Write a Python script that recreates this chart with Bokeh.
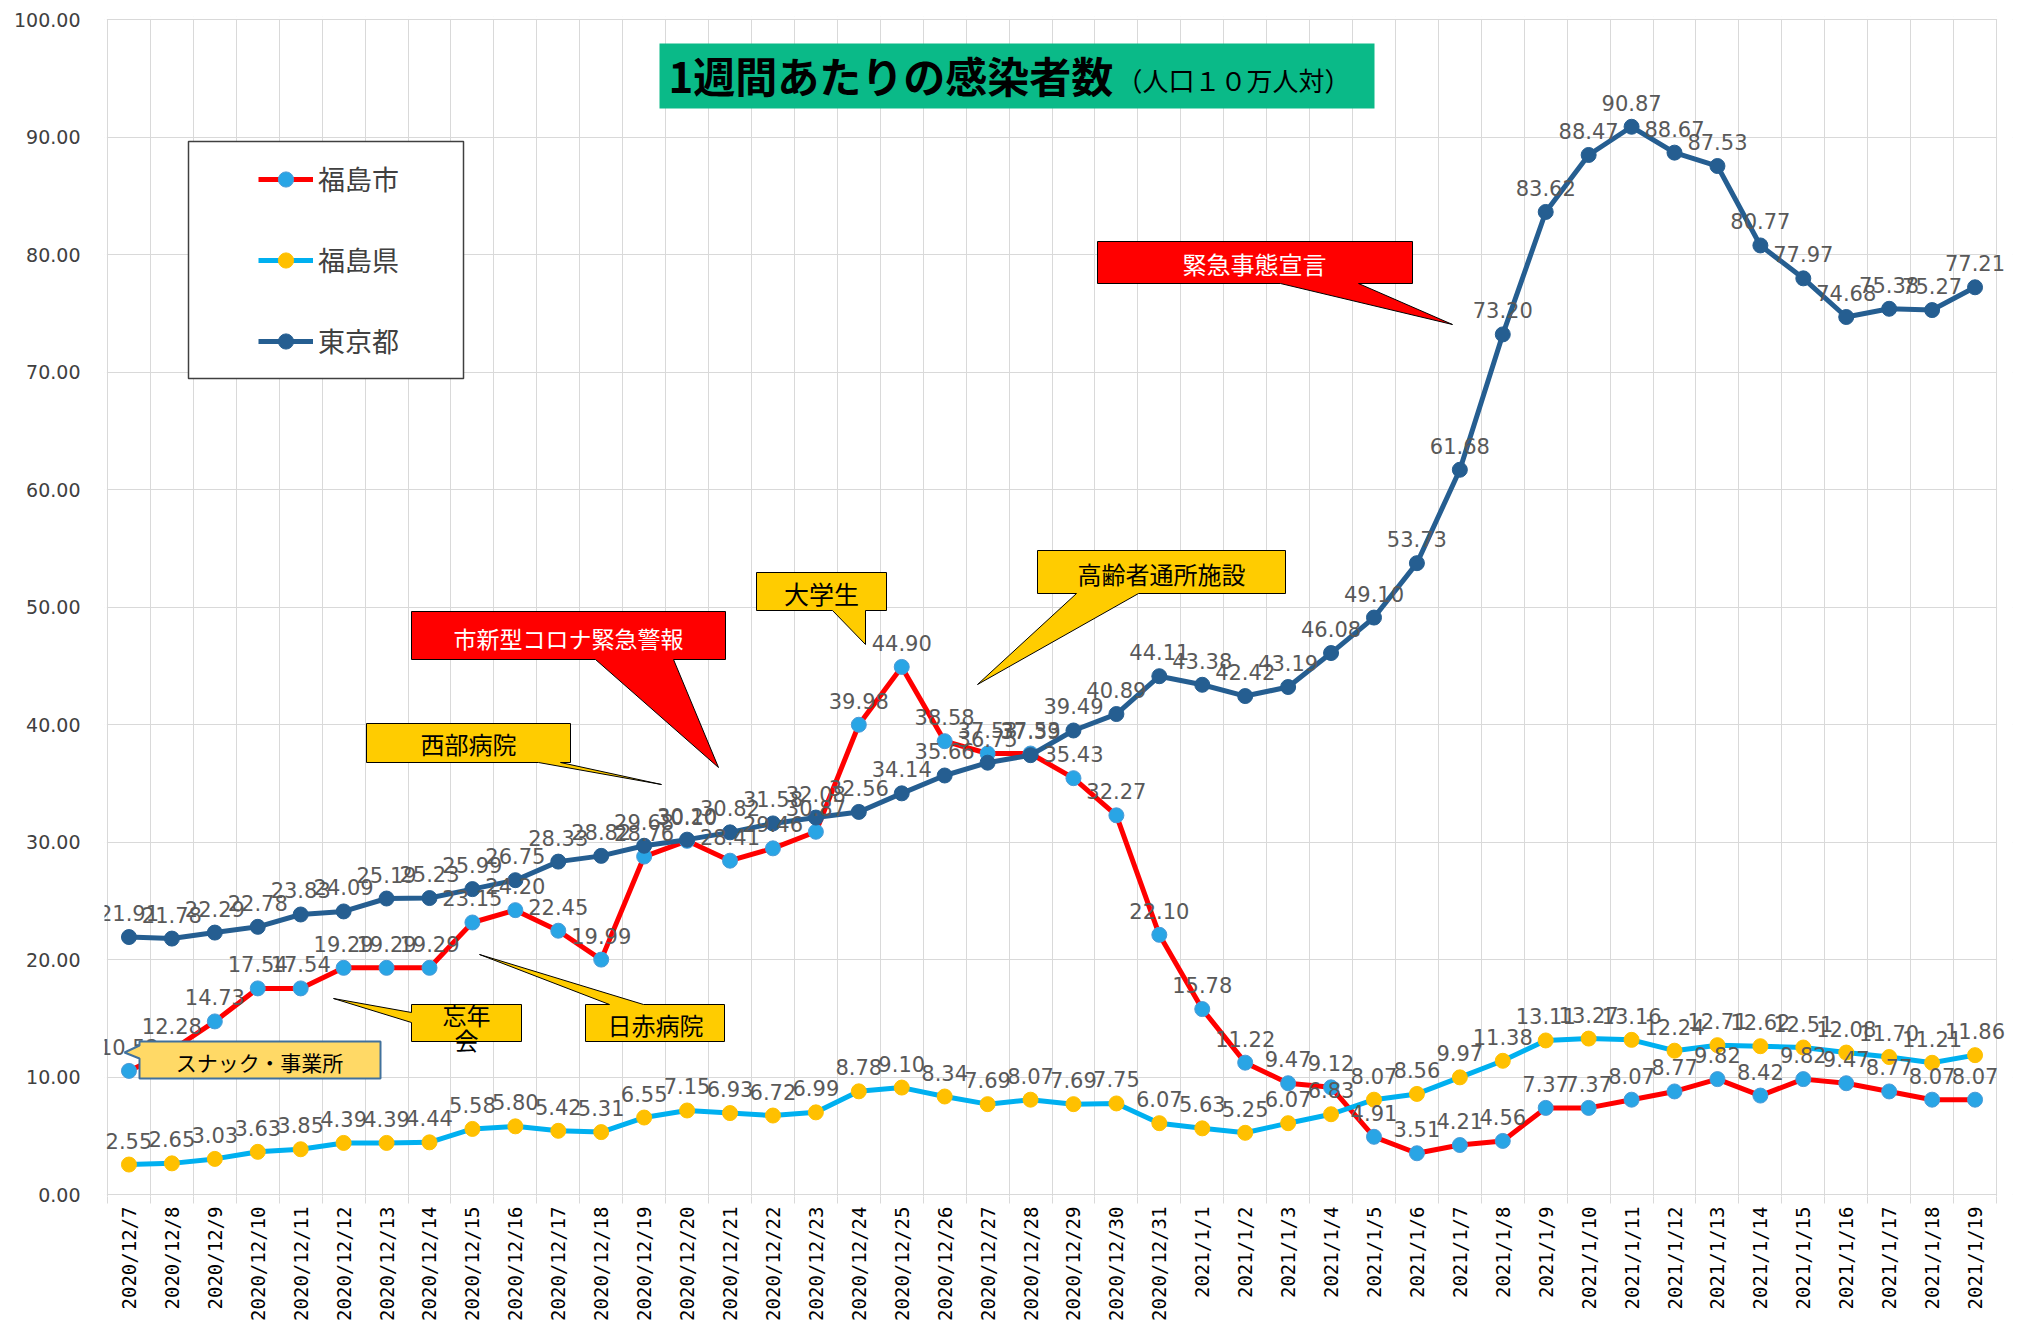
import math
from bokeh.plotting import figure
from bokeh.models import (Range1d, FixedTicker, NumeralTickFormatter, CustomJSTickFormatter,
                          Legend, LegendItem)
from bokeh.core.properties import value
from bokeh.embed import file_html
from bokeh.resources import INLINE

# ---------------- data ----------------
dates = ["2020/12/7", "2020/12/8", "2020/12/9", "2020/12/10", "2020/12/11", "2020/12/12",
         "2020/12/13", "2020/12/14", "2020/12/15", "2020/12/16", "2020/12/17", "2020/12/18",
         "2020/12/19", "2020/12/20", "2020/12/21", "2020/12/22", "2020/12/23", "2020/12/24",
         "2020/12/25", "2020/12/26", "2020/12/27", "2020/12/28", "2020/12/29", "2020/12/30",
         "2020/12/31", "2021/1/1", "2021/1/2", "2021/1/3", "2021/1/4", "2021/1/5", "2021/1/6",
         "2021/1/7", "2021/1/8", "2021/1/9", "2021/1/10", "2021/1/11", "2021/1/12", "2021/1/13",
         "2021/1/14", "2021/1/15", "2021/1/16", "2021/1/17", "2021/1/18", "2021/1/19"]

fukushima_city = [10.52, 12.28, 14.73, 17.54, 17.54, 19.29, 19.29, 19.29, 23.15, 24.20, 22.45, 19.99,
                  28.76, 30.10, 28.41, 29.46, 30.87, 39.98, 44.90, 38.58, 37.53, 37.53, 35.43, 32.27,
                  22.10, 15.78, 11.22, 9.47, 9.12, 4.91, 3.51, 4.21, 4.56, 7.37, 7.37, 8.07, 8.77,
                  9.82, 8.42, 9.82, 9.47, 8.77, 8.07, 8.07]

fukushima_pref = [2.55, 2.65, 3.03, 3.63, 3.85, 4.39, 4.39, 4.44, 5.58, 5.80, 5.42, 5.31,
                  6.55, 7.15, 6.93, 6.72, 6.99, 8.78, 9.10, 8.34, 7.69, 8.07, 7.69, 7.75,
                  6.07, 5.63, 5.25, 6.07, 6.83, 8.07, 8.56, 9.97, 11.38, 13.11, 13.27, 13.16,
                  12.24, 12.71, 12.62, 12.51, 12.08, 11.70, 11.21, 11.86]

tokyo = [21.91, 21.78, 22.29, 22.78, 23.83, 24.09, 25.19, 25.23, 25.99, 26.75, 28.33, 28.82,
         29.68, 30.20, 30.82, 31.58, 32.08, 32.56, 34.14, 35.66, 36.75, 37.39, 39.49, 40.89,
         44.11, 43.38, 42.42, 43.19, 46.08, 49.10, 53.73, 61.68, 73.20, 83.62, 88.47, 90.87,
         88.67, 87.53, 80.77, 77.97, 74.68, 75.38, 75.27, 77.21]

y_ticks = [0, 10, 20, 30, 40, 50, 60, 70, 80, 90, 100]
series_names = ["福島市", "福島県", "東京都"]
title_main = "1週間あたりの感染者数"
title_sub = "（人口１０万人対）"

# ---------------- geometry helpers (page pixels -> data) ----------------
N = len(dates)
PLOT_L, PLOT_R = 107, 1996      # pixel position of x = 0 and x = N
PLOT_T, PLOT_B = 19, 1194       # pixel position of y = 100 and y = 0


def X(px):
    return (px - PLOT_L) * N / (PLOT_R - PLOT_L)


def Y(py):
    return (PLOT_B - py) * 100.0 / (PLOT_B - PLOT_T)


# frame is slightly larger than the plot area so that edge labels are not clipped
FR_L, FR_R, FR_T, FR_B = 104, 2012, 16, 1196

JP = value("Noto Sans CJK JP")

p = figure(frame_width=FR_R - FR_L, frame_height=FR_B - FR_T,
           x_range=Range1d(X(FR_L), X(FR_R)), y_range=Range1d(Y(FR_B), Y(FR_T)),
           output_backend="svg", toolbar_location=None,
           min_border_left=FR_L, min_border_right=3, min_border_top=FR_T, min_border_bottom=10,
           background_fill_color="white", border_fill_color="white",
           outline_line_color=None)

# x axis
p.xaxis.ticker = FixedTicker(ticks=[i + 0.5 for i in range(N)], minor_ticks=list(range(N + 1)))
p.xaxis.formatter = CustomJSTickFormatter(args=dict(labels=dates),
                                          code="return labels[Math.floor(tick)] || '';")
p.xaxis.major_label_orientation = math.pi / 2
p.xaxis.major_label_text_font = "DejaVu Sans Mono"
p.xaxis.major_label_text_font_size = "19px"
p.xaxis.major_label_text_color = "#000000"
p.xaxis.major_tick_line_color = None
p.xaxis.major_tick_out = 0
p.xaxis.major_tick_in = 0
p.xaxis.minor_tick_line_color = "#d9d9d9"
p.xaxis.minor_tick_out = 7
p.xaxis.minor_tick_in = 0
p.xaxis.axis_line_color = None
p.xaxis.major_label_standoff = 3

# y axis
p.yaxis.ticker = FixedTicker(ticks=y_ticks)
p.yaxis.formatter = NumeralTickFormatter(format="0.00")
p.yaxis.axis_line_color = None
p.yaxis.major_tick_line_color = None
p.yaxis.minor_tick_line_color = None
p.yaxis.major_tick_out = 0
p.yaxis.major_tick_in = 0
p.yaxis.major_label_standoff = 24
p.yaxis.major_label_text_font = "DejaVu Sans"
p.yaxis.major_label_text_font_size = "19px"
p.yaxis.major_label_text_color = "#404040"

p.xgrid.grid_line_color = None
p.xgrid.minor_grid_line_color = "#d9d9d9"
p.ygrid.grid_line_color = "#d9d9d9"

# white strips hiding grid beyond the plot area (left, right, top)
p.quad(left=[X(FR_L - 2), X(PLOT_R + 0.6), X(FR_L - 2)],
       right=[X(PLOT_L - 0.6), X(FR_R + 2), X(FR_R + 2)],
       top=[Y(FR_T - 2), Y(FR_T - 2), Y(FR_T - 2)],
       bottom=[Y(FR_B + 2), Y(FR_B + 2), Y(PLOT_T - 0.6)],
       fill_color="white", line_color=None)

xs = [i + 0.5 for i in range(N)]

styles = [
    (fukushima_city, "#FF0000", "#29A5E5", "#4A9BD8"),
    (fukushima_pref, "#00B0F0", "#FFC000", "#FFC000"),
    (tokyo, "#255E91", "#255E91", "#255E91"),
]

renderers = []
for vals, lc, mfill, mline in styles:
    rl = p.line(xs, vals, line_color=lc, line_width=5)
    rs = p.scatter(xs, vals, size=15, fill_color=mfill, line_color=mline, line_width=1)
    renderers.append((rl, rs))

for vals, _, _, _ in styles:
    p.text(xs, vals, text=[f"{v:.2f}" for v in vals], text_align="center",
           text_baseline="alphabetic", y_offset=-24,
           text_font=value("DejaVu Sans"), text_font_size="21px", text_color="#595959")

# ---------------- callouts ----------------
YELLOW = "#FFCC00"
RED = "#FF0000"

callouts = [
    # polygon (page px), fill, line color, line width, [(text, cx, cy)], text color, font px
    ([(1097, 241), (1412, 241), (1412, 283), (1358, 283), (1452, 324), (1280, 283), (1097, 283)],
     RED, "#000000", 1, [("緊急事態宣言", 1254, 263)], "white", 24),
    ([(1037, 550), (1285, 550), (1285, 593), (1138, 593), (977, 684), (1076, 593), (1037, 593)],
     YELLOW, "#000000", 1, [("高齢者通所施設", 1161, 573)], "black", 24),
    ([(756, 572), (886, 572), (886, 610), (865, 610), (865, 644), (832, 610), (756, 610)],
     YELLOW, "#000000", 1, [("大学生", 821, 592)], "black", 25),
    ([(411, 611), (725, 611), (725, 659), (673, 659), (718, 767), (595, 659), (411, 659)],
     RED, "#000000", 1, [("市新型コロナ緊急警報", 568, 637)], "white", 23),
    ([(366, 723), (570, 723), (570, 762), (560, 762), (661, 784), (538, 762), (366, 762)],
     YELLOW, "#000000", 1, [("西部病院", 468, 743)], "black", 24),
    ([(411, 1004), (521, 1004), (521, 1041), (411, 1041), (411, 1022), (333, 998), (411, 1012)],
     YELLOW, "#000000", 1, [("忘年", 466, 1014), ("会", 466, 1039)], "black", 24),
    ([(585, 1004), (609, 1004), (479, 954), (643, 1004), (724, 1004), (724, 1041), (585, 1041)],
     YELLOW, "#000000", 1, [("日赤病院", 655, 1024)], "black", 24),
    ([(139, 1041), (380, 1041), (380, 1078), (139, 1078), (139, 1058), (124, 1052), (139, 1045)],
     "#FFD966", "#41719C", 2, [("スナック・事業所", 259, 1061)], "black", 21),
]

for pts, fill, lcol, lw, texts, tcol, fpx in callouts:
    p.patch([X(a) for a, b in pts], [Y(b) for a, b in pts], fill_color=fill,
            line_color=lcol, line_width=lw)
    for t, cx, cy in texts:
        p.text([X(cx)], [Y(cy)], text=[t], text_align="center", text_baseline="middle",
               text_font=JP, text_font_size=f"{fpx}px", text_color=tcol)

# ---------------- title box ----------------
p.quad(left=[X(659)], right=[X(1374)], top=[Y(43)], bottom=[Y(108)],
       fill_color="#0ABA88", line_color=None)
p.text([X(668)], [Y(74)], text=[title_main], text_align="left", text_baseline="middle",
       text_font=JP, text_font_size="42px", text_font_style="bold", text_color="black")
p.text([X(1116)], [Y(79)], text=[title_sub], text_align="left", text_baseline="middle",
       text_font=JP, text_font_size="26px", text_color="black")

# ---------------- legend ----------------
p.quad(left=[X(188)], right=[X(463)], top=[Y(141)], bottom=[Y(378)],
       fill_color="white", line_color="#404040", line_width=1.5)

legend = Legend(items=[LegendItem(label=name, renderers=list(r))
                       for name, r in zip(series_names, renderers)],
                location=(258 - FR_L, FR_B - 360), padding=0, margin=0, spacing=42,
                glyph_width=55, glyph_height=38, label_height=38, label_standoff=5,
                label_text_font="Noto Sans CJK JP", label_text_font_size="27px",
                label_text_color="#404040", label_text_baseline="middle",
                border_line_color=None, background_fill_alpha=0)
p.add_layout(legend)

open("out.html", "w").write(file_html(p, INLINE))
